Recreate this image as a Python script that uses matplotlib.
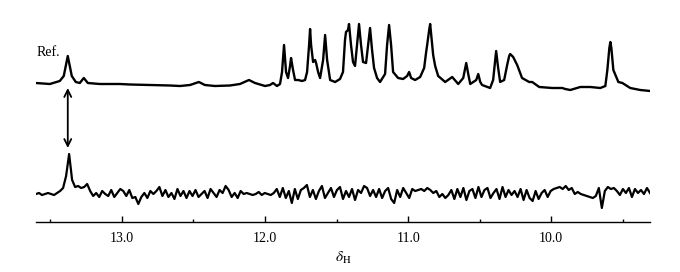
import numpy as np
import matplotlib
matplotlib.use("Agg")
import matplotlib.pyplot as plt

plt.rcParams['font.family'] = ['Liberation Serif', 'DejaVu Serif']
plt.rcParams['mathtext.fontset'] = 'stix'

# ---- Reference spectrum (top trace): chemical shift (ppm) and intensity (a.u.) ----
ref_ppm = [13.601, 13.503, 13.434, 13.406, 13.392, 13.378, 13.364, 13.350, 13.322, 13.294,
           13.266, 13.238, 13.154, 13.014, 12.944, 12.804, 12.664, 12.594, 12.524, 12.462,
           12.420, 12.350, 12.245, 12.175, 12.112, 12.070, 12.000, 11.965, 11.944, 11.916,
           11.895, 11.881, 11.867, 11.853, 11.839, 11.825, 11.818, 11.804, 11.790, 11.769,
           11.741, 11.720, 11.706, 11.692, 11.685, 11.678, 11.664, 11.650, 11.643, 11.629,
           11.615, 11.594, 11.580, 11.566, 11.545, 11.510, 11.476, 11.455, 11.441, 11.434,
           11.420, 11.413, 11.399, 11.385, 11.371, 11.357, 11.343, 11.329, 11.315, 11.294,
           11.280, 11.266, 11.252, 11.238, 11.217, 11.196, 11.161, 11.147, 11.133, 11.119,
           11.105, 11.070, 11.035, 11.007, 10.993, 10.979, 10.951, 10.916, 10.888, 10.874,
           10.867, 10.853, 10.846, 10.832, 10.825, 10.811, 10.790, 10.741, 10.692, 10.650,
           10.615, 10.601, 10.594, 10.580, 10.566, 10.524, 10.510, 10.496, 10.483, 10.427,
           10.406, 10.392, 10.385, 10.371, 10.357, 10.329, 10.308, 10.294, 10.287, 10.266,
           10.238, 10.204, 10.154, 10.133, 10.084, 9.993, 9.923, 9.902, 9.867, 9.797,
           9.727, 9.657, 9.622, 9.608, 9.594, 9.587, 9.580, 9.566, 9.531, 9.503,
           9.448, 9.378, 9.308]
ref_int = [8, 7, 10, 15, 25, 35, 25, 15, 9, 8,
           13, 8, 7, 7, 6.5, 6, 5.5, 5, 6, 9,
           6, 5, 5.5, 7, 11, 8, 5, 6, 8, 5,
           7, 19, 46, 19, 13, 25, 33, 21, 11, 11,
           10, 11, 19, 46, 62, 46, 29, 31, 28, 19,
           13, 31, 56, 31, 11, 9, 12, 19, 51, 59,
           61, 67, 46, 29, 25, 46, 67, 46, 29, 28,
           46, 63, 41, 23, 13, 9, 17, 46, 66, 46,
           19, 13, 12, 15, 19, 13, 11, 14, 23, 39,
           46, 61, 67, 46, 36, 25, 15, 9, 14, 7,
           13, 23, 28, 17, 7, 11, 17, 9, 6, 3,
           11, 31, 40, 23, 9, 11, 26, 35, 37, 34,
           26, 13, 9, 9, 4, 3, 3, 2, 1, 4,
           4, 3, 5, 21, 43, 49, 43, 21, 9, 8,
           3, 1, 0]

# ---- Sample spectrum (bottom trace): noise trace read at equal steps, 13.60 -> 9.31 ppm ----
sample_int = [0, 1, -1, 0, 1, 0, -1, 1, 3, 6,
              18, 40, 14, 7, 8, 6, 7, 10, 3, -2,
              1, -3, 3, 0, -2, 4, -3, 1, 5, 3,
              -2, 4, -4, -3, -10, -3, 1, -4, 3, 0,
              3, 7, -2, 4, -3, 1, -5, 5, -2, 3,
              -4, 3, -2, 4, -3, 0, 3, -4, 5, 1,
              -3, 4, 1, 8, 4, -3, 1, -4, 3, 0,
              1, 0, -1, 0, 2, -1, 1, 0, -1, 1,
              5, -3, 6, -4, 3, -9, 5, -5, 4, 6,
              9, -3, 4, -5, 3, 8, -4, 1, 6, -3,
              4, 7, -5, 3, -3, 5, -6, 4, 1, 8,
              6, -2, 4, -3, 5, -4, 3, 6, -5, -9,
              4, -3, 6, 1, -4, 5, 3, 4, 5, 3,
              6, 4, 1, 3, -3, 0, -4, -1, 4, -5,
              5, -3, 6, -6, 3, 5, -4, 7, -3, 4,
              6, -4, 1, 5, -5, 7, -3, 4, -1, 3,
              -3, 5, -6, 4, -4, -7, 3, -5, 1, 4,
              -3, 3, 5, 6, 7, 5, 8, 4, 6, 0,
              2, 0, -1, -2, -3, -4, -2, 6, -14, 3,
              7, 5, 6, 3, -1, 5, 1, 6, -3, 5,
              1, 4, 0, 6, 1]
sample_ppm_range = (13.60, 9.31)

major_ticks = [13.0, 12.0, 11.0, 10.0]
major_labels = ["13.0", "12.0", "11.0", "10.0"]
minor_ticks = [13.5, 12.5, 11.5, 10.5, 9.5]

arrow_ppm = 13.378

# ---- Figure ----
W, H, DPI = 680, 272, 100
fig = plt.figure(figsize=(W / DPI, H / DPI), dpi=DPI)
ax = fig.add_axes([36 / W, 50 / H, 614 / W, 222 / H])

top_offset = 131
bottom_offset = 28

ax.plot(ref_ppm, np.array(ref_int) + top_offset, color='black', lw=1.7,
        solid_joinstyle='round')
sample_ppm = np.linspace(sample_ppm_range[0], sample_ppm_range[1], len(sample_int))
ax.plot(sample_ppm, np.array(sample_int) + bottom_offset, color='black', lw=1.6,
        solid_joinstyle='round')

ax.annotate('', xy=(arrow_ppm, 134), xytext=(arrow_ppm, 74),
            arrowprops=dict(arrowstyle='<->,head_length=0.5,head_width=0.25',
                            color='black', lw=1.3, shrinkA=0, shrinkB=0))

ax.text(13.595, 169, 'Ref.', fontsize=10, ha='left', va='center')

ax.set_xlim(13.60, 9.31)
ax.set_ylim(0, 222)

for s in ['top', 'right', 'left']:
    ax.spines[s].set_visible(False)
ax.spines['bottom'].set_linewidth(1.0)
ax.set_yticks([])
ax.set_xticks(major_ticks)
ax.set_xticklabels(major_labels)
ax.set_xticks(minor_ticks, minor=True)
ax.tick_params(axis='x', which='major', direction='in', length=4, width=1.0,
               labelsize=10, pad=7)
ax.tick_params(axis='x', which='minor', direction='in', length=2.3, width=1.0)

fig.text(343 / W, 1 - 258 / H, r'$\delta_{\mathrm{H}}$', fontsize=11,
         ha='center', va='center')

fig.savefig('out.png', dpi=DPI)
